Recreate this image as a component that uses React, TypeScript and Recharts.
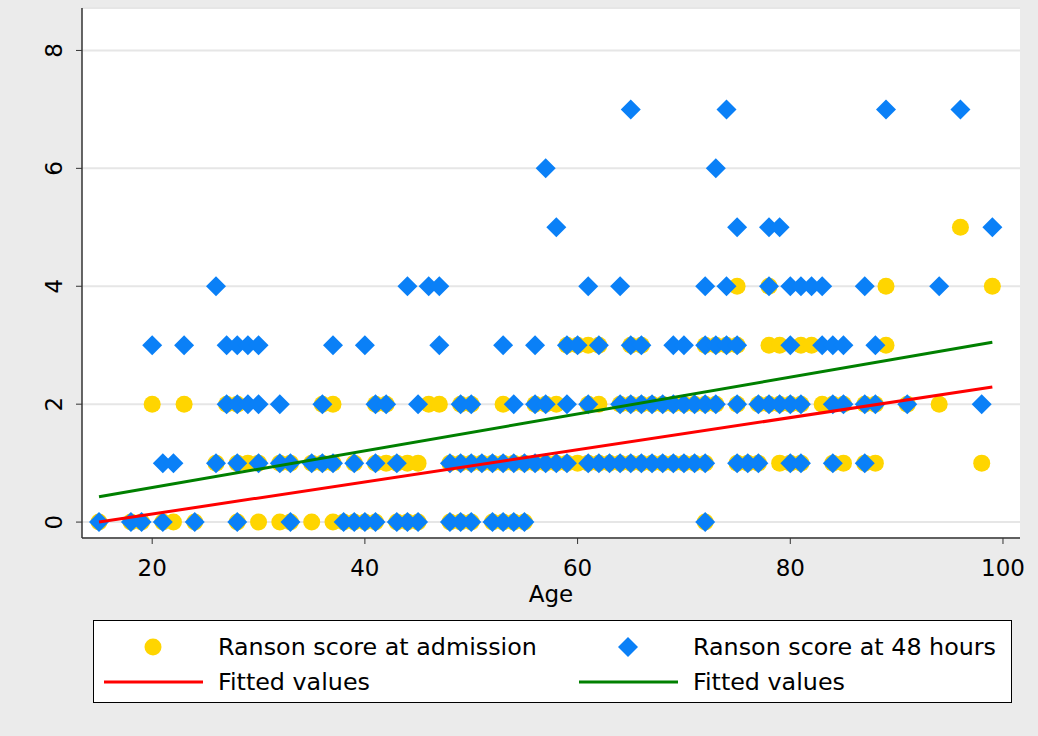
import { CartesianGrid, Scatter, ScatterChart, XAxis, YAxis } from "recharts";

const admissionAt0 = [15, 18, 19, 21, 22, 24, 28, 30, 32, 33, 35, 37, 38, 39, 40, 41, 43, 44, 45, 48, 49, 50, 52, 53, 54, 55, 72];
const admissionAt1 = [26, 28, 29, 30, 32, 33, 35, 36, 37, 39, 41, 42, 43, 44, 45, 48, 49, 50, 51, 52, 53, 54, 55, 56, 57, 58, 59, 60, 61, 62, 63, 64, 65, 66, 67, 68, 69, 70, 71, 72, 75, 76, 77, 79, 80, 81, 84, 85, 87, 88, 98];
const admissionAt2 = [20, 23, 27, 28, 36, 37, 41, 42, 46, 47, 49, 50, 53, 56, 57, 58, 61, 62, 64, 65, 66, 67, 68, 69, 70, 71, 72, 73, 75, 77, 78, 79, 80, 81, 83, 84, 85, 87, 88, 91, 94];
const admissionAt3 = [59, 60, 61, 62, 65, 66, 72, 73, 74, 75, 78, 79, 81, 82, 89];
const admissionAt4 = [75, 78, 89, 99];
const admissionAt5 = [96];

const hours48At0 = [15, 18, 19, 21, 24, 28, 33, 38, 39, 40, 41, 43, 44, 45, 48, 49, 50, 52, 53, 54, 55, 72];
const hours48At1 = [21, 22, 26, 28, 30, 32, 33, 35, 36, 37, 39, 41, 43, 48, 49, 50, 51, 52, 53, 54, 55, 56, 57, 58, 59, 61, 62, 63, 64, 65, 66, 67, 68, 69, 70, 71, 72, 75, 76, 77, 80, 81, 84, 87];
const hours48At2 = [27, 28, 29, 30, 32, 36, 41, 42, 45, 49, 50, 54, 56, 57, 59, 61, 64, 65, 66, 67, 68, 69, 70, 71, 72, 73, 75, 77, 78, 79, 80, 81, 84, 85, 87, 88, 91, 98];
const hours48At3 = [20, 23, 27, 28, 29, 30, 37, 40, 47, 53, 56, 59, 60, 62, 65, 66, 69, 70, 72, 73, 74, 75, 80, 83, 84, 85, 88];
const hours48At4 = [26, 44, 46, 47, 61, 64, 72, 74, 78, 80, 81, 82, 83, 87, 94];
const hours48At5 = [58, 75, 78, 79, 99];
const hours48At6 = [57, 73];
const hours48At7 = [65, 74, 89, 96];

// linear fits, end points over the age range
const fitAges = [15, 99];
const admissionFit = [0.0, 2.29];
const hours48Fit = [0.43, 3.05];

const xTicks = [20, 40, 60, 80, 100];
const yTicks = [0, 2, 4, 6, 8];

const YELLOW = "#FFD500";
const BLUE = "#0A80F7";
const RED = "#FF0000";
const GREEN = "#008000";
const FONT = "'DejaVu Sans', 'Liberation Sans', Arial, sans-serif";

type Row = { age: number; score: number };

function byScore(groups: number[][]): Row[] {
  return groups.flatMap((ages, score) => ages.map((age) => ({ age, score })));
}

const admissionRows = byScore([admissionAt0, admissionAt1, admissionAt2, admissionAt3, admissionAt4, admissionAt5]);
const hours48Rows = byScore([hours48At0, hours48At1, hours48At2, hours48At3, hours48At4, hours48At5, hours48At6, hours48At7]);
const admissionFitRows = fitAges.map((age, i) => ({ age, score: admissionFit[i] }));
const hours48FitRows = fitAges.map((age, i) => ({ age, score: hours48Fit[i] }));

function Dot(props: any) {
  return <circle cx={props.cx} cy={props.cy} r={8.5} fill={YELLOW} />;
}

function Diamond(props: any) {
  const { cx, cy } = props;
  const s = 10;
  return (
    <polygon
      points={`${cx},${cy - s} ${cx + s},${cy} ${cx},${cy + s} ${cx - s},${cy}`}
      fill={BLUE}
    />
  );
}

function NoMark() {
  return <g />;
}

function YTick({ x, y, payload }: any) {
  return (
    <text
      transform={`translate(${x - 10},${y}) rotate(-90)`}
      textAnchor="middle"
      fontSize={23}
      fontFamily={FONT}
      fill="#000"
    >
      {payload.value}
    </text>
  );
}

function LegendBox() {
  const text = { fontSize: 23.8, fontFamily: FONT, fill: "#000" };
  return (
    <svg
      width={919}
      height={83}
      style={{ position: "absolute", left: 93, top: 620, background: "#fff", border: "1px solid #000", boxSizing: "border-box" }}
    >
      <circle cx={59} cy={26} r={8.5} fill={YELLOW} />
      <text x={124} y={34} {...text}>Ranson score at admission</text>
      <polygon points="534,16 544,26 534,36 524,26" fill={BLUE} />
      <text x={599} y={34} {...text}>Ranson score at 48 hours</text>
      <line x1={10} x2={109} y1={61} y2={61} stroke={RED} strokeWidth={3} />
      <text x={124} y={69} {...text}>Fitted values</text>
      <line x1={485} x2={584} y1={61} y2={61} stroke={GREEN} strokeWidth={3} />
      <text x={599} y={69} {...text}>Fitted values</text>
    </svg>
  );
}

export default function App() {
  return (
    <div style={{ position: "relative", width: 1038, height: 736, background: "#EBEBEB" }}>
      <style>{`body { margin: 0; }`}</style>
      <ScatterChart width={1038} height={736} margin={{ top: 8, right: 18, bottom: 132, left: 0 }}>
        <CartesianGrid vertical={false} stroke="#E6E6E6" strokeWidth={2} fill="#FFFFFF" />
        <XAxis
          type="number"
          dataKey="age"
          domain={[13.4, 101.6]}
          ticks={xTicks}
          allowDataOverflow
          height={66}
          tickSize={6}
          tickMargin={16}
          axisLine={{ stroke: "#333", strokeWidth: 1.5 }}
          tickLine={{ stroke: "#333" }}
          tick={{ fontSize: 23, fontFamily: FONT, fill: "#000" }}
          label={{ value: "Age", position: "insideBottom", offset: 2, fontSize: 23, fontFamily: FONT, fill: "#000" }}
        />
        <YAxis
          type="number"
          dataKey="score"
          domain={[-0.27, 8.72]}
          ticks={yTicks}
          allowDataOverflow
          width={82}
          tickSize={6}
          tickMargin={4}
          axisLine={{ stroke: "#333", strokeWidth: 1.5 }}
          tickLine={{ stroke: "#333" }}
          tick={<YTick />}
        />
        <Scatter name="Ranson score at admission" data={admissionRows} shape={<Dot />} isAnimationActive={false} />
        <Scatter name="Ranson score at 48 hours" data={hours48Rows} shape={<Diamond />} isAnimationActive={false} />
        <Scatter
          name="Fitted values"
          data={admissionFitRows}
          shape={<NoMark />}
          line={{ stroke: RED, strokeWidth: 3 }}
          isAnimationActive={false}
        />
        <Scatter
          name="Fitted values"
          data={hours48FitRows}
          shape={<NoMark />}
          line={{ stroke: GREEN, strokeWidth: 3 }}
          isAnimationActive={false}
        />
      </ScatterChart>
      <LegendBox />
    </div>
  );
}
